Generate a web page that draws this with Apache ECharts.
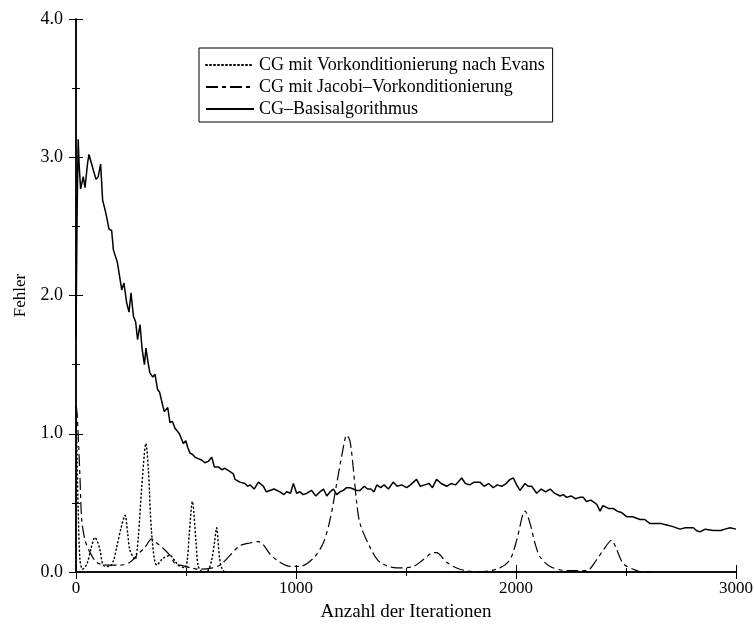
<!DOCTYPE html>
<html lang="de">
<head>
    <meta charset="UTF-8">
    <title>CG Fehlerverlauf</title>
    <script src="https://cdn.jsdelivr.net/npm/echarts@6/dist/echarts.min.js"></script>
    <style>
        html, body { margin: 0; padding: 0; background: #fff; }
        #chart { width: 754px; height: 624px; }
    </style>
</head>
<body>
<div id="chart"></div>
<script>
    // Beschriftungen
    var seriesNames = ['CG mit Vorkonditionierung nach Evans', 'CG mit Jacobi\u2013Vorkonditionierung', 'CG\u2013Basisalgorithmus'];
    var xTicks = [0, 1000, 2000, 3000];
    var yTicks = [0.0, 1.0, 2.0, 3.0, 4.0];

    // CG-Basisalgorithmus
    var basisX = [0, 5, 10, 14, 21, 33, 41, 52, 59, 68, 80, 91, 101, 112, 121, 132, 139, 150, 162, 170,
        188, 208, 218, 230, 241, 250, 261, 271, 280, 291, 300, 311, 318, 327, 336, 349, 359, 371, 380, 389,
        401, 417, 427, 438, 450, 458, 470, 477, 488, 499, 508, 518, 530, 541, 555, 571, 586, 601, 617, 629,
        647, 662, 677, 697, 715, 723, 745, 768, 780, 791, 810, 829, 852, 865, 882, 900, 927, 945, 958, 975,
        988, 1003, 1018, 1033, 1050, 1071, 1090, 1109, 1125, 1140, 1155, 1170, 1185, 1200, 1215, 1230, 1245, 1260, 1275, 1291,
        1310, 1325, 1340, 1355, 1367, 1385, 1400, 1420, 1442, 1460, 1480, 1503, 1520, 1548, 1565, 1585, 1605, 1620, 1639, 1660,
        1685, 1705, 1725, 1753, 1770, 1790, 1810, 1836, 1855, 1875, 1897, 1915, 1935, 1955, 1973, 1988, 2003, 2018, 2026, 2041,
        2055, 2071, 2094, 2115, 2135, 2155, 2175, 2200, 2215, 2230, 2250, 2270, 2290, 2306, 2320, 2340, 2367, 2382, 2395, 2420,
        2442, 2460, 2480, 2503, 2530, 2564, 2585, 2609, 2640, 2660, 2685, 2710, 2745, 2770, 2806, 2820, 2836, 2860, 2897, 2930,
        2950, 2973, 3000];
    var basisY = [1.70, 2.60, 3.13, 2.95, 2.77, 2.86, 2.78, 2.95, 3.02, 3.01, 2.90, 2.84, 2.86, 2.95, 2.69, 2.62, 2.57, 2.48, 2.47, 2.33,
        2.24, 2.04, 2.09, 1.95, 1.88, 2.02, 1.85, 1.81, 1.68, 1.79, 1.62, 1.50, 1.62, 1.52, 1.44, 1.41, 1.43, 1.32, 1.30, 1.24,
        1.16, 1.19, 1.08, 1.09, 1.04, 1.05, 1.00, 0.99, 0.93, 0.95, 0.90, 0.86, 0.85, 0.83, 0.82, 0.81, 0.79, 0.80, 0.83, 0.76,
        0.76, 0.74, 0.75, 0.73, 0.71, 0.67, 0.65, 0.64, 0.62, 0.63, 0.60, 0.65, 0.62, 0.58, 0.59, 0.60, 0.58, 0.56, 0.58, 0.57,
        0.64, 0.57, 0.58, 0.56, 0.57, 0.59, 0.55, 0.58, 0.60, 0.55, 0.58, 0.60, 0.56, 0.58, 0.59, 0.61, 0.61, 0.60, 0.59, 0.59,
        0.62, 0.60, 0.60, 0.58, 0.63, 0.61, 0.63, 0.60, 0.65, 0.62, 0.63, 0.61, 0.63, 0.67, 0.62, 0.63, 0.64, 0.61, 0.67, 0.64,
        0.62, 0.64, 0.63, 0.68, 0.64, 0.63, 0.65, 0.65, 0.62, 0.64, 0.61, 0.63, 0.62, 0.64, 0.67, 0.68, 0.63, 0.59, 0.58, 0.64,
        0.62, 0.62, 0.57, 0.60, 0.58, 0.60, 0.57, 0.55, 0.56, 0.54, 0.55, 0.53, 0.54, 0.54, 0.51, 0.52, 0.49, 0.44, 0.48, 0.46,
        0.46, 0.44, 0.43, 0.40, 0.40, 0.38, 0.38, 0.35, 0.35, 0.35, 0.34, 0.33, 0.31, 0.32, 0.32, 0.30, 0.29, 0.31, 0.30, 0.30,
        0.31, 0.32, 0.31];

    // CG mit Jacobi-Vorkonditionierung
    var jacobiX = [0, 5, 11, 18, 26, 41, 64, 94, 139, 200, 245, 276, 314, 344, 359, 397, 427, 458, 473, 520,
        564, 620, 655, 700, 745, 791, 829, 850, 882, 927, 973, 1018, 1079, 1124, 1155, 1185, 1215, 1230, 1245, 1261,
        1276, 1291, 1336, 1382, 1458, 1533, 1579, 1624, 1639, 1685, 1745, 1836, 1927, 1973, 2003, 2033, 2041, 2064, 2086, 2109,
        2155, 2230, 2321, 2367, 2397, 2435, 2458, 2488, 2533, 2579, 2620];
    var jacobiY = [1.20, 1.15, 0.95, 0.69, 0.38, 0.23, 0.14, 0.07, 0.05, 0.05, 0.07, 0.12, 0.18, 0.24, 0.22, 0.17, 0.12, 0.05, 0.05, 0.03,
        0.02, 0.03, 0.05, 0.12, 0.19, 0.21, 0.22, 0.20, 0.13, 0.07, 0.04, 0.04, 0.10, 0.21, 0.38, 0.64, 0.90, 0.99, 0.95, 0.74,
        0.50, 0.35, 0.18, 0.07, 0.03, 0.04, 0.09, 0.14, 0.14, 0.07, 0.02, 0.00, 0.03, 0.09, 0.23, 0.43, 0.44, 0.35, 0.21, 0.11,
        0.04, 0.01, 0.01, 0.09, 0.16, 0.23, 0.16, 0.06, 0.02, 0.00, 0.00];

    // CG mit Vorkonditionierung nach Evans
    var evansX = [0, 5, 10, 18, 30, 50, 70, 86, 100, 109, 124, 151, 170, 185, 205, 223, 235, 245, 268, 283,
        299, 318, 329, 344, 367, 397, 427, 450, 465, 495, 506, 515, 529, 545, 556, 577, 600, 617, 630, 639,
        652, 662, 675];
    var evansY = [1.20, 0.80, 0.45, 0.09, 0.02, 0.06, 0.18, 0.25, 0.21, 0.16, 0.05, 0.04, 0.08, 0.18, 0.32, 0.41, 0.28, 0.16, 0.09, 0.25,
        0.62, 0.93, 0.74, 0.28, 0.05, 0.10, 0.12, 0.08, 0.05, 0.03, 0.09, 0.28, 0.51, 0.23, 0.04, 0.00, 0.01, 0.09, 0.22, 0.32,
        0.11, 0.03, 0.00];

    function pairs(xs, ys) {
        return xs.map(function (x, i) { return [x, ys[i]]; });
    }

    var serif = '"Liberation Serif", "DejaVu Serif", serif';
    var frameLine = { lineStyle: { color: '#000', width: 1.5 } };

    var myChart = echarts.init(document.getElementById('chart'), null, { renderer: 'canvas' });

    var option = {
        backgroundColor: '#fff',
        animation: false,
        grid: { left: 76, right: 18, top: 19, bottom: 52, containLabel: false, outerBoundsMode: 'none' },
        legend: {
            orient: 'vertical',
            left: 199,
            top: 48,
            padding: [8, 8, 4, 6],
            itemGap: 4,
            itemWidth: 48,
            itemHeight: 18,
            borderColor: '#000',
            borderWidth: 1,
            backgroundColor: '#fff',
            itemStyle: { opacity: 0 },
            textStyle: { fontFamily: serif, fontSize: 18, color: '#000' },
            data: seriesNames
        },
        xAxis: [{
            type: 'value',
            position: 'bottom',
            min: 0, max: 3000, interval: 1000,
            name: 'Anzahl der Iterationen',
            nameLocation: 'middle',
            nameGap: 31,
            nameTextStyle: { fontFamily: serif, fontSize: 19, color: '#000' },
            axisLine: frameLine,
            axisTick: { inside: true, length: 7, lineStyle: { color: '#000' } },
            minorTick: { show: true, splitNumber: 2, length: 4, lineStyle: { color: '#000' } },
            axisLabel: {
                fontFamily: serif, fontSize: 17, color: '#000', margin: 8,
                formatter: function (v) { return String(v); }
            },
            splitLine: { show: false }
        }, {
            type: 'value',
            position: 'top',
            min: 0, max: 3000, interval: 1000,
            axisLine: frameLine,
            axisTick: { inside: true, length: 7, lineStyle: { color: '#000' } },
            minorTick: { show: true, splitNumber: 2, length: 4, lineStyle: { color: '#000' } },
            axisLabel: { show: false },
            splitLine: { show: false }
        }],
        yAxis: [{
            type: 'value',
            position: 'left',
            min: 0, max: 4, interval: 1,
            name: 'Fehler',
            nameLocation: 'middle',
            nameGap: 47,
            nameTextStyle: { fontFamily: serif, fontSize: 17, color: '#000' },
            axisLine: frameLine,
            axisTick: { inside: true, length: 7, lineStyle: { color: '#000' } },
            minorTick: { show: true, splitNumber: 2, length: 4, lineStyle: { color: '#000' } },
            axisLabel: {
                fontFamily: serif, fontSize: 18, color: '#000', margin: 13,
                formatter: function (v) { return v.toFixed(1); }
            },
            splitLine: { show: false }
        }, {
            type: 'value',
            position: 'right',
            min: 0, max: 4, interval: 1,
            axisLine: frameLine,
            axisTick: { inside: true, length: 7, lineStyle: { color: '#000' } },
            minorTick: { show: true, splitNumber: 2, length: 4, lineStyle: { color: '#000' } },
            axisLabel: { show: false },
            splitLine: { show: false }
        }],
        series: [{
            name: seriesNames[0],
            type: 'line',
            symbol: 'none',
            smooth: 0.3,
            data: pairs(evansX, evansY),
            lineStyle: { color: '#000', width: 1.5, type: [1, 3], cap: 'round' },
            itemStyle: { color: '#000' }
        }, {
            name: seriesNames[1],
            type: 'line',
            symbol: 'none',
            smooth: 0.3,
            data: pairs(jacobiX, jacobiY),
            lineStyle: { color: '#000', width: 1.2, type: [12, 4, 4, 4] },
            itemStyle: { color: '#000' }
        }, {
            name: seriesNames[2],
            type: 'line',
            symbol: 'none',
            data: pairs(basisX, basisY),
            lineStyle: { color: '#000', width: 1.5 },
            itemStyle: { color: '#000' }
        }]
    };

    myChart.setOption(option);
</script>
</body>
</html>
